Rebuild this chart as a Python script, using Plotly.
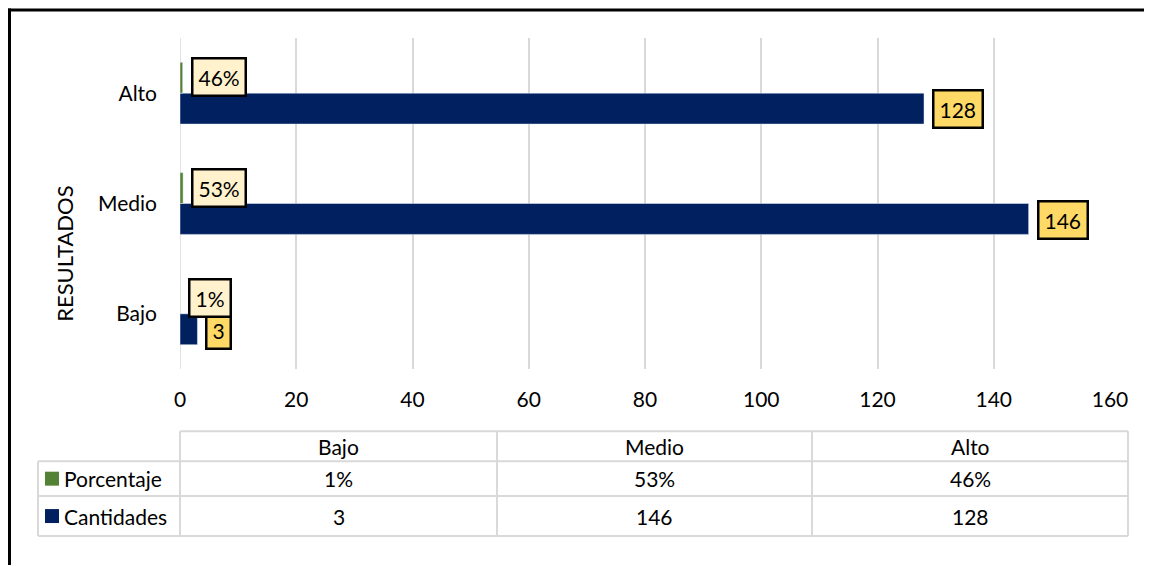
import plotly.graph_objects as go

categories = ["Bajo", "Medio", "Alto"]
porcentaje = [0.01, 0.53, 0.46]
cantidades = [3, 146, 128]
porcentaje_labels = ["1%", "53%", "46%"]
cantidades_labels = ["3", "146", "128"]
series_names = ["Porcentaje", "Cantidades"]
x_ticks = [0, 20, 40, 60, 80, 100, 120, 140, 160]

GREEN = "#548235"
NAVY = "#002060"
GRID = "#D9D9D9"
FONT = "Lato"
TXT = "#000000"
FS = 21

OFF = 8  # page body margin
W_PX, H_PX = 1152 - OFF, 566 - OFF
L, R = 180 - OFF, 1110 - OFF
T, B = 37.5 - OFF, 369.5 - OFF

def px_x(px):
    return (px - OFF - L) / (R - L)

def px_y(py):
    return (B - (py - OFF)) / (B - T)

fig = go.Figure()
fig.add_trace(go.Bar(y=categories, x=cantidades, orientation="h", name=series_names[1],
                     marker=dict(color=NAVY), hoverinfo="skip"))
fig.add_trace(go.Bar(y=categories, x=porcentaje, orientation="h", name=series_names[0],
                     marker=dict(color=GREEN), hoverinfo="skip"))

annotations = []
shapes = []

# data labels
for cat, v, lab in zip(categories, cantidades, cantidades_labels):
    annotations.append(dict(x=v, y=cat, xref="x", yref="y", text=lab, showarrow=False,
                            xanchor="left", xshift=8, yshift=-16,
                            font=dict(family=FONT, size=FS, color=TXT),
                            bgcolor="#FFD966", bordercolor="#000000", borderwidth=2.5, borderpad=5))
for cat, v, lab in zip(categories, porcentaje, porcentaje_labels):
    annotations.append(dict(x=v, y=cat, xref="x", yref="y", text=lab, showarrow=False,
                            xanchor="left", xshift=8, yshift=16,
                            font=dict(family=FONT, size=FS, color=TXT),
                            bgcolor="#FFF2CC", bordercolor="#000000", borderwidth=2.5, borderpad=5))

# axis title
annotations.append(dict(x=px_x(65), y=px_y(254), xref="paper", yref="paper", text="RESULTADOS",
                        textangle=-90, showarrow=False, xanchor="center", yanchor="middle",
                        font=dict(family=FONT, size=22, color=TXT)))

# data table
col_edges = [180, 497, 812, 1128]
row_edges = [432, 462, 497, 537]
leg_left = 38

def hline(x0, x1, y):
    shapes.append(dict(type="line", xref="paper", yref="paper", x0=px_x(x0), x1=px_x(x1),
                       y0=px_y(y), y1=px_y(y), line=dict(color=GRID, width=2)))

def vline(x, y0, y1):
    shapes.append(dict(type="line", xref="paper", yref="paper", x0=px_x(x), x1=px_x(x),
                       y0=px_y(y0), y1=px_y(y1), line=dict(color=GRID, width=2)))

hline(col_edges[0], col_edges[-1], row_edges[0])
for y in row_edges[1:]:
    hline(leg_left, col_edges[-1], y)
vline(leg_left, row_edges[1], row_edges[-1])
for x in col_edges:
    vline(x, row_edges[0], row_edges[-1])

def cell_text(xc, yc, text, anchor="center"):
    annotations.append(dict(x=px_x(xc), y=px_y(yc), xref="paper", yref="paper", text=text,
                            showarrow=False, xanchor=anchor, yanchor="middle",
                            font=dict(family=FONT, size=FS, color=TXT)))

for i, cat in enumerate(categories):
    xc = (col_edges[i] + col_edges[i + 1]) / 2
    cell_text(xc, (row_edges[0] + row_edges[1]) / 2, cat)
    cell_text(xc, (row_edges[1] + row_edges[2]) / 2, porcentaje_labels[i])
    cell_text(xc, (row_edges[2] + row_edges[3]) / 2, cantidades_labels[i])

for r, (name, col) in enumerate([(series_names[0], GREEN), (series_names[1], NAVY)]):
    yc = (row_edges[r + 1] + row_edges[r + 2]) / 2
    shapes.append(dict(type="rect", xref="paper", yref="paper", x0=px_x(45), x1=px_x(59),
                       y0=px_y(yc - 7), y1=px_y(yc + 7), fillcolor=col, line=dict(width=0)))
    cell_text(62, yc, name, anchor="left")

# outer border (top & left)
shapes.append(dict(type="line", xref="paper", yref="paper", x0=px_x(8), x1=px_x(1152),
                   y0=px_y(9.5), y1=px_y(9.5), line=dict(color="#000000", width=3)))
shapes.append(dict(type="line", xref="paper", yref="paper", x0=px_x(9.5), x1=px_x(9.5),
                   y0=px_y(8), y1=px_y(566), line=dict(color="#000000", width=3)))

fig.update_layout(
    width=W_PX, height=H_PX,
    margin=dict(l=L, r=W_PX - R, t=T, b=H_PX - B, autoexpand=False),
    paper_bgcolor="white", plot_bgcolor="white",
    barmode="group", bargap=0.44, bargroupgap=0,
    showlegend=False,
    font=dict(family=FONT, size=FS, color=TXT),
    annotations=annotations, shapes=shapes,
    xaxis=dict(range=[0, 160], tickvals=x_ticks, showgrid=True, gridcolor=GRID, gridwidth=1.5,
               zeroline=False, showline=False, ticks="", ticklabelstandoff=16,
               tickfont=dict(family=FONT, size=FS, color=TXT), automargin=False, fixedrange=True),
    yaxis=dict(categoryorder="array", categoryarray=categories, showgrid=False, zeroline=False,
               showline=False, ticks="", ticklabelstandoff=22,
               tickfont=dict(family=FONT, size=FS, color=TXT), automargin=False, fixedrange=True),
)
fig.add_shape(type="line", xref="x", yref="paper", x0=0, x1=0, y0=0, y1=1,
              line=dict(color=GRID, width=1.5), layer="below")

fig.write_html("out.html")
